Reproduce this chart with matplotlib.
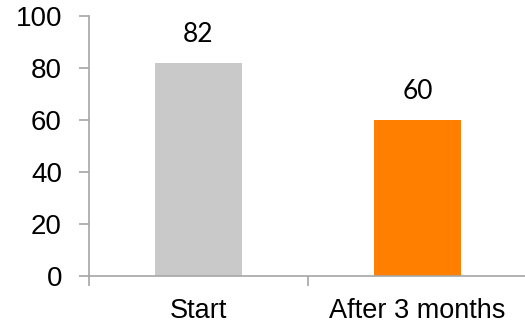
"""Bar chart: score at start vs after 3 months."""
import matplotlib.pyplot as plt

categories = ['Start', 'After 3 months']
values = [82, 60]
colors = ['#c9c9c9', '#ff7f00']
y_ticks = [0, 20, 40, 60, 80, 100]

fig = plt.figure(figsize=(5.25, 3.3), dpi=100)
ax = fig.add_axes([89 / 525, 54 / 330, 438 / 525, 260 / 330])

x = list(range(len(categories)))
ax.bar(x, values, width=0.4, color=colors, zorder=2)

for xi, v in zip(x, values):
    ax.text(xi, v + 8, str(v), ha='center', va='baseline',
            fontsize=19, family='Lato', color='black')

ax.set_xlim(-0.5, len(categories) - 0.5)
ax.set_ylim(0, 100)
ax.set_yticks(y_ticks)
ax.set_yticklabels([str(t) for t in y_ticks], family='Liberation Sans',
                   fontsize=20)

# boundary ticks between categories, labels on minor ticks at centers
ax.set_xticks([i - 0.5 for i in range(len(categories) + 1)])
ax.set_xticklabels([])
ax.set_xticks(x, minor=True)
ax.set_xticklabels(categories, minor=True, family='Liberation Sans',
                   fontsize=19.5)
ax.tick_params(axis='x', which='minor', length=0, pad=16)
ax.tick_params(axis='both', which='major', length=7.5, width=1.2,
               color='#a6a6a6', direction='out')
ax.tick_params(axis='y', pad=12)

for side in ['top', 'right']:
    ax.spines[side].set_visible(False)
for side in ['left', 'bottom']:
    ax.spines[side].set_color('#a6a6a6')
    ax.spines[side].set_linewidth(1.2)

fig.savefig('out.png', dpi=100)
